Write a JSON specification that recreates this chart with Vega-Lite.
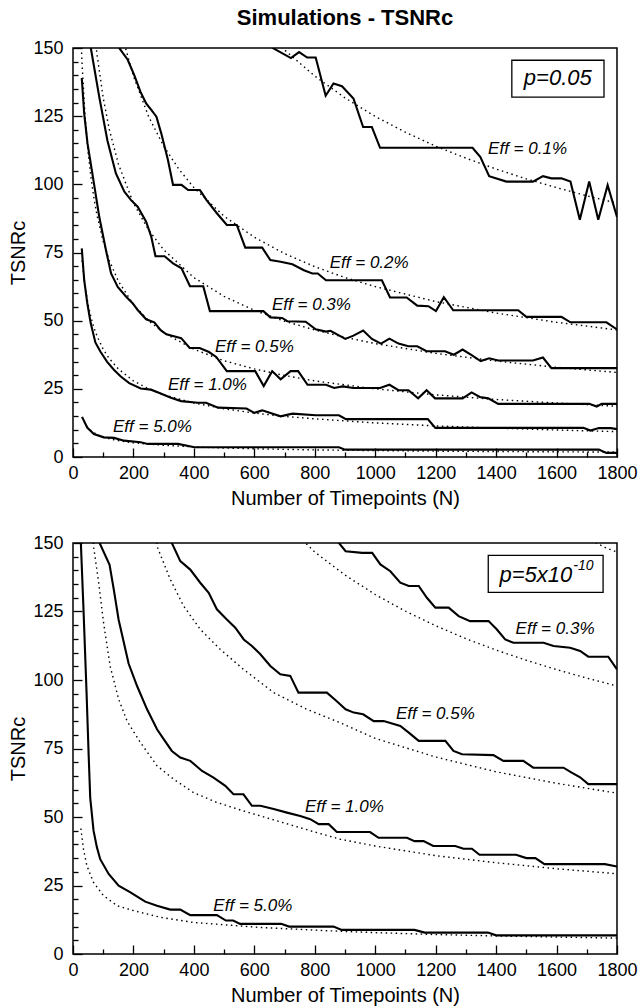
{
  "$schema": "https://vega.github.io/schema/vega-lite/v6.json",
  "background": "white",
  "padding": {"left": 8, "right": 0, "top": 6, "bottom": 0},
  "config": {
    "font": "Liberation Sans",
    "view": {"stroke": "black", "strokeWidth": 1.5},
    "axis": {"grid": false, "domain": false, "ticks": true, "tickColor": "black", "tickWidth": 1.3, "tickOpacity": 1, "labelColor": "black", "titleColor": "black", "labelFont": "Liberation Sans", "titleFont": "Liberation Sans", "labelFontSize": 18, "titleFontSize": 20, "titleFontWeight": "normal", "labelFlush": false, "labelOverlap": false, "labelBound": false, "zindex": 1},
    "concat": {"spacing": 24}
  },
  "datasets": {
    "top_sim": [
      {"eff":"0.1","N":640,"tsnr":153},{"eff":"0.1","N":661,"tsnr":150},{"eff":"0.1","N":721,"tsnr":146.3},{"eff":"0.1","N":748,"tsnr":148.5},{"eff":"0.1","N":775,"tsnr":146.5},{"eff":"0.1","N":803,"tsnr":146.5},{"eff":"0.1","N":836,"tsnr":132.5},{"eff":"0.1","N":862,"tsnr":137},{"eff":"0.1","N":890,"tsnr":136},{"eff":"0.1","N":928,"tsnr":131.5},{"eff":"0.1","N":960,"tsnr":121},{"eff":"0.1","N":989,"tsnr":121},{"eff":"0.1","N":1016,"tsnr":113.4},{"eff":"0.1","N":1322,"tsnr":113.4},{"eff":"0.1","N":1348,"tsnr":110},{"eff":"0.1","N":1377,"tsnr":103},{"eff":"0.1","N":1434,"tsnr":101},{"eff":"0.1","N":1522,"tsnr":101},{"eff":"0.1","N":1555,"tsnr":103},{"eff":"0.1","N":1583,"tsnr":102.2},{"eff":"0.1","N":1616,"tsnr":102.2},{"eff":"0.1","N":1646,"tsnr":101},{"eff":"0.1","N":1677,"tsnr":87},{"eff":"0.1","N":1708,"tsnr":101},{"eff":"0.1","N":1738,"tsnr":87},{"eff":"0.1","N":1769,"tsnr":99.7},{"eff":"0.1","N":1800,"tsnr":88},
      {"eff":"0.2","N":150,"tsnr":152},{"eff":"0.2","N":153,"tsnr":150},{"eff":"0.2","N":181,"tsnr":145.7},{"eff":"0.2","N":203,"tsnr":140},{"eff":"0.2","N":223,"tsnr":134},{"eff":"0.2","N":242,"tsnr":129.7},{"eff":"0.2","N":259,"tsnr":127.3},{"eff":"0.2","N":276,"tsnr":124.8},{"eff":"0.2","N":292,"tsnr":118.7},{"eff":"0.2","N":314,"tsnr":109},{"eff":"0.2","N":331,"tsnr":99.8},{"eff":"0.2","N":359,"tsnr":99.8},{"eff":"0.2","N":381,"tsnr":97.9},{"eff":"0.2","N":420,"tsnr":97.9},{"eff":"0.2","N":442,"tsnr":94.2},{"eff":"0.2","N":476,"tsnr":89.4},{"eff":"0.2","N":509,"tsnr":85.1},{"eff":"0.2","N":542,"tsnr":85.1},{"eff":"0.2","N":570,"tsnr":76.8},{"eff":"0.2","N":626,"tsnr":76.8},{"eff":"0.2","N":653,"tsnr":72.2},{"eff":"0.2","N":687,"tsnr":71.6},{"eff":"0.2","N":726,"tsnr":70.7},{"eff":"0.2","N":764,"tsnr":68.5},{"eff":"0.2","N":792,"tsnr":67.3},{"eff":"0.2","N":810,"tsnr":67.3},{"eff":"0.2","N":837,"tsnr":64.8},{"eff":"0.2","N":1022,"tsnr":64.8},{"eff":"0.2","N":1049,"tsnr":58.5},{"eff":"0.2","N":1104,"tsnr":58.5},{"eff":"0.2","N":1139,"tsnr":55.5},{"eff":"0.2","N":1176,"tsnr":55.3},{"eff":"0.2","N":1201,"tsnr":53.5},{"eff":"0.2","N":1227,"tsnr":58.6},{"eff":"0.2","N":1258,"tsnr":53.8},{"eff":"0.2","N":1473,"tsnr":53.8},{"eff":"0.2","N":1500,"tsnr":51.4},{"eff":"0.2","N":1616,"tsnr":51.4},{"eff":"0.2","N":1646,"tsnr":49.4},{"eff":"0.2","N":1765,"tsnr":49.4},{"eff":"0.2","N":1800,"tsnr":46.8},
      {"eff":"0.3","N":57,"tsnr":152},{"eff":"0.3","N":59,"tsnr":150},{"eff":"0.3","N":87,"tsnr":132},{"eff":"0.3","N":114,"tsnr":116},{"eff":"0.3","N":142,"tsnr":104},{"eff":"0.3","N":170,"tsnr":97.3},{"eff":"0.3","N":192,"tsnr":94.2},{"eff":"0.3","N":214,"tsnr":91.8},{"eff":"0.3","N":242,"tsnr":86.3},{"eff":"0.3","N":259,"tsnr":80.8},{"eff":"0.3","N":273,"tsnr":73.6},{"eff":"0.3","N":303,"tsnr":73.6},{"eff":"0.3","N":331,"tsnr":71},{"eff":"0.3","N":359,"tsnr":69.2},{"eff":"0.3","N":387,"tsnr":62.6},{"eff":"0.3","N":431,"tsnr":62.6},{"eff":"0.3","N":453,"tsnr":53.5},{"eff":"0.3","N":630,"tsnr":53.5},{"eff":"0.3","N":653,"tsnr":51.2},{"eff":"0.3","N":692,"tsnr":51},{"eff":"0.3","N":709,"tsnr":49.8},{"eff":"0.3","N":770,"tsnr":49.6},{"eff":"0.3","N":803,"tsnr":46.8},{"eff":"0.3","N":837,"tsnr":46},{"eff":"0.3","N":852,"tsnr":46.3},{"eff":"0.3","N":901,"tsnr":43.3},{"eff":"0.3","N":928,"tsnr":44.5},{"eff":"0.3","N":960,"tsnr":46.4},{"eff":"0.3","N":989,"tsnr":43.3},{"eff":"0.3","N":1019,"tsnr":41.6},{"eff":"0.3","N":1047,"tsnr":43.4},{"eff":"0.3","N":1077,"tsnr":41.6},{"eff":"0.3","N":1110,"tsnr":40.6},{"eff":"0.3","N":1139,"tsnr":40.6},{"eff":"0.3","N":1170,"tsnr":38.8},{"eff":"0.3","N":1231,"tsnr":38.8},{"eff":"0.3","N":1260,"tsnr":37.5},{"eff":"0.3","N":1289,"tsnr":39.4},{"eff":"0.3","N":1319,"tsnr":37.4},{"eff":"0.3","N":1349,"tsnr":35.2},{"eff":"0.3","N":1377,"tsnr":36.2},{"eff":"0.3","N":1407,"tsnr":35.4},{"eff":"0.3","N":1522,"tsnr":35.4},{"eff":"0.3","N":1555,"tsnr":36.5},{"eff":"0.3","N":1583,"tsnr":32.6},{"eff":"0.3","N":1800,"tsnr":32.6},
      {"eff":"0.5","N":29,"tsnr":139},{"eff":"0.5","N":37,"tsnr":126},{"eff":"0.5","N":48,"tsnr":115},{"eff":"0.5","N":64,"tsnr":104},{"eff":"0.5","N":87,"tsnr":88},{"eff":"0.5","N":109,"tsnr":75.9},{"eff":"0.5","N":126,"tsnr":67.3},{"eff":"0.5","N":148,"tsnr":62.4},{"eff":"0.5","N":176,"tsnr":58.8},{"eff":"0.5","N":198,"tsnr":56.3},{"eff":"0.5","N":214,"tsnr":53.9},{"eff":"0.5","N":242,"tsnr":50.5},{"eff":"0.5","N":269,"tsnr":49.4},{"eff":"0.5","N":290,"tsnr":46.5},{"eff":"0.5","N":309,"tsnr":45},{"eff":"0.5","N":358,"tsnr":43.6},{"eff":"0.5","N":386,"tsnr":40},{"eff":"0.5","N":419,"tsnr":40},{"eff":"0.5","N":450,"tsnr":38.5},{"eff":"0.5","N":474,"tsnr":36.7},{"eff":"0.5","N":509,"tsnr":31.5},{"eff":"0.5","N":603,"tsnr":31.5},{"eff":"0.5","N":631,"tsnr":26},{"eff":"0.5","N":659,"tsnr":31.5},{"eff":"0.5","N":687,"tsnr":28.5},{"eff":"0.5","N":720,"tsnr":31.5},{"eff":"0.5","N":745,"tsnr":31.5},{"eff":"0.5","N":776,"tsnr":26.5},{"eff":"0.5","N":837,"tsnr":26.5},{"eff":"0.5","N":864,"tsnr":25.3},{"eff":"0.5","N":892,"tsnr":25.9},{"eff":"0.5","N":928,"tsnr":25.3},{"eff":"0.5","N":1016,"tsnr":25.3},{"eff":"0.5","N":1047,"tsnr":26.5},{"eff":"0.5","N":1077,"tsnr":24.5},{"eff":"0.5","N":1110,"tsnr":24.5},{"eff":"0.5","N":1142,"tsnr":21.5},{"eff":"0.5","N":1170,"tsnr":24.5},{"eff":"0.5","N":1198,"tsnr":21.5},{"eff":"0.5","N":1289,"tsnr":21.5},{"eff":"0.5","N":1319,"tsnr":23.7},{"eff":"0.5","N":1346,"tsnr":22},{"eff":"0.5","N":1374,"tsnr":21.5},{"eff":"0.5","N":1407,"tsnr":19.5},{"eff":"0.5","N":1708,"tsnr":19.5},{"eff":"0.5","N":1733,"tsnr":18.5},{"eff":"0.5","N":1749,"tsnr":19.5},{"eff":"0.5","N":1800,"tsnr":19.5},
      {"eff":"1.0","N":29,"tsnr":76.5},{"eff":"1.0","N":37,"tsnr":65},{"eff":"1.0","N":47,"tsnr":56.6},{"eff":"1.0","N":58,"tsnr":49.4},{"eff":"1.0","N":74,"tsnr":42},{"eff":"1.0","N":91,"tsnr":38.6},{"eff":"1.0","N":113,"tsnr":34.9},{"eff":"1.0","N":136,"tsnr":31.9},{"eff":"1.0","N":158,"tsnr":29.5},{"eff":"1.0","N":186,"tsnr":27.1},{"eff":"1.0","N":224,"tsnr":25.1},{"eff":"1.0","N":258,"tsnr":24.7},{"eff":"1.0","N":286,"tsnr":23.5},{"eff":"1.0","N":324,"tsnr":21.7},{"eff":"1.0","N":358,"tsnr":20.5},{"eff":"1.0","N":413,"tsnr":19.9},{"eff":"1.0","N":440,"tsnr":19.9},{"eff":"1.0","N":480,"tsnr":18.1},{"eff":"1.0","N":574,"tsnr":17.8},{"eff":"1.0","N":600,"tsnr":16.2},{"eff":"1.0","N":626,"tsnr":17.1},{"eff":"1.0","N":687,"tsnr":14.9},{"eff":"1.0","N":726,"tsnr":15.9},{"eff":"1.0","N":803,"tsnr":15.3},{"eff":"1.0","N":880,"tsnr":15.3},{"eff":"1.0","N":903,"tsnr":13.9},{"eff":"1.0","N":1174,"tsnr":13.9},{"eff":"1.0","N":1199,"tsnr":10.7},{"eff":"1.0","N":1689,"tsnr":10.7},{"eff":"1.0","N":1712,"tsnr":9.7},{"eff":"1.0","N":1740,"tsnr":10.6},{"eff":"1.0","N":1780,"tsnr":10.6},{"eff":"1.0","N":1800,"tsnr":10.2},
      {"eff":"5.0","N":30,"tsnr":14.7},{"eff":"5.0","N":47,"tsnr":10.8},{"eff":"5.0","N":69,"tsnr":8.4},{"eff":"5.0","N":102,"tsnr":7.2},{"eff":"5.0","N":136,"tsnr":7},{"eff":"5.0","N":169,"tsnr":6},{"eff":"5.0","N":224,"tsnr":5.4},{"eff":"5.0","N":247,"tsnr":4.8},{"eff":"5.0","N":347,"tsnr":4.8},{"eff":"5.0","N":402,"tsnr":3.6},{"eff":"5.0","N":880,"tsnr":3.6},{"eff":"5.0","N":900,"tsnr":2.7},{"eff":"5.0","N":1740,"tsnr":2.7},{"eff":"5.0","N":1765,"tsnr":1.5},{"eff":"5.0","N":1800,"tsnr":1.5}
    ],
    "top_theory": [
      {"eff":"0.1","N":690,"tsnr":150.4},{"eff":"0.1","N":700,"tsnr":149.3},{"eff":"0.1","N":800,"tsnr":139.7},{"eff":"0.1","N":900,"tsnr":131.7},{"eff":"0.1","N":1000,"tsnr":124.9},{"eff":"0.1","N":1100,"tsnr":119.1},{"eff":"0.1","N":1200,"tsnr":114},{"eff":"0.1","N":1300,"tsnr":109.6},{"eff":"0.1","N":1400,"tsnr":105.6},{"eff":"0.1","N":1500,"tsnr":102},{"eff":"0.1","N":1600,"tsnr":98.8},{"eff":"0.1","N":1700,"tsnr":95.8},{"eff":"0.1","N":1800,"tsnr":93.1},
      {"eff":"0.2","N":170,"tsnr":151.5},{"eff":"0.2","N":200,"tsnr":139.7},{"eff":"0.2","N":250,"tsnr":124.9},{"eff":"0.2","N":300,"tsnr":114},{"eff":"0.2","N":350,"tsnr":105.6},{"eff":"0.2","N":400,"tsnr":98.8},{"eff":"0.2","N":500,"tsnr":88.3},{"eff":"0.2","N":600,"tsnr":80.6},{"eff":"0.2","N":700,"tsnr":74.6},{"eff":"0.2","N":800,"tsnr":69.8},{"eff":"0.2","N":900,"tsnr":65.8},{"eff":"0.2","N":1000,"tsnr":62.5},{"eff":"0.2","N":1200,"tsnr":57},{"eff":"0.2","N":1400,"tsnr":52.8},{"eff":"0.2","N":1600,"tsnr":49.4},{"eff":"0.2","N":1800,"tsnr":46.6},
      {"eff":"0.3","N":76,"tsnr":151},{"eff":"0.3","N":80,"tsnr":147.2},{"eff":"0.3","N":100,"tsnr":131.7},{"eff":"0.3","N":120,"tsnr":120.2},{"eff":"0.3","N":150,"tsnr":107.5},{"eff":"0.3","N":200,"tsnr":93.1},{"eff":"0.3","N":250,"tsnr":83.3},{"eff":"0.3","N":300,"tsnr":76},{"eff":"0.3","N":400,"tsnr":65.8},{"eff":"0.3","N":500,"tsnr":58.9},{"eff":"0.3","N":600,"tsnr":53.8},{"eff":"0.3","N":700,"tsnr":49.8},{"eff":"0.3","N":800,"tsnr":46.6},{"eff":"0.3","N":900,"tsnr":43.9},{"eff":"0.3","N":1000,"tsnr":41.6},{"eff":"0.3","N":1200,"tsnr":38},{"eff":"0.3","N":1400,"tsnr":35.2},{"eff":"0.3","N":1600,"tsnr":32.9},{"eff":"0.3","N":1800,"tsnr":31},
      {"eff":"0.5","N":27,"tsnr":152},{"eff":"0.5","N":30,"tsnr":144.2},{"eff":"0.5","N":40,"tsnr":124.9},{"eff":"0.5","N":50,"tsnr":111.7},{"eff":"0.5","N":60,"tsnr":102},{"eff":"0.5","N":70,"tsnr":94.4},{"eff":"0.5","N":80,"tsnr":88.3},{"eff":"0.5","N":100,"tsnr":79},{"eff":"0.5","N":120,"tsnr":72.1},{"eff":"0.5","N":150,"tsnr":64.5},{"eff":"0.5","N":200,"tsnr":55.9},{"eff":"0.5","N":250,"tsnr":50},{"eff":"0.5","N":300,"tsnr":45.6},{"eff":"0.5","N":400,"tsnr":39.5},{"eff":"0.5","N":500,"tsnr":35.3},{"eff":"0.5","N":600,"tsnr":32.3},{"eff":"0.5","N":700,"tsnr":29.9},{"eff":"0.5","N":800,"tsnr":27.9},{"eff":"0.5","N":1000,"tsnr":25},{"eff":"0.5","N":1200,"tsnr":22.8},{"eff":"0.5","N":1400,"tsnr":21.1},{"eff":"0.5","N":1600,"tsnr":19.8},{"eff":"0.5","N":1800,"tsnr":18.6},
      {"eff":"1.0","N":30,"tsnr":72.1},{"eff":"1.0","N":40,"tsnr":62.5},{"eff":"1.0","N":50,"tsnr":55.9},{"eff":"1.0","N":60,"tsnr":51},{"eff":"1.0","N":70,"tsnr":47.2},{"eff":"1.0","N":80,"tsnr":44.2},{"eff":"1.0","N":100,"tsnr":39.5},{"eff":"1.0","N":120,"tsnr":36.1},{"eff":"1.0","N":150,"tsnr":32.3},{"eff":"1.0","N":200,"tsnr":27.9},{"eff":"1.0","N":250,"tsnr":25},{"eff":"1.0","N":300,"tsnr":22.8},{"eff":"1.0","N":400,"tsnr":19.8},{"eff":"1.0","N":500,"tsnr":17.7},{"eff":"1.0","N":600,"tsnr":16.1},{"eff":"1.0","N":700,"tsnr":14.9},{"eff":"1.0","N":800,"tsnr":14},{"eff":"1.0","N":1000,"tsnr":12.5},{"eff":"1.0","N":1200,"tsnr":11.4},{"eff":"1.0","N":1400,"tsnr":10.6},{"eff":"1.0","N":1600,"tsnr":9.9},{"eff":"1.0","N":1800,"tsnr":9.3},
      {"eff":"5.0","N":30,"tsnr":14.5},{"eff":"5.0","N":40,"tsnr":12.2},{"eff":"5.0","N":50,"tsnr":10.6},{"eff":"5.0","N":60,"tsnr":9.6},{"eff":"5.0","N":80,"tsnr":8.2},{"eff":"5.0","N":100,"tsnr":7.2},{"eff":"5.0","N":150,"tsnr":6},{"eff":"5.0","N":200,"tsnr":5.2},{"eff":"5.0","N":300,"tsnr":4.3},{"eff":"5.0","N":400,"tsnr":3.7},{"eff":"5.0","N":500,"tsnr":3.3},{"eff":"5.0","N":600,"tsnr":3},{"eff":"5.0","N":800,"tsnr":2.6},{"eff":"5.0","N":1000,"tsnr":2.35},{"eff":"5.0","N":1200,"tsnr":2.15},{"eff":"5.0","N":1400,"tsnr":2},{"eff":"5.0","N":1600,"tsnr":1.9},{"eff":"5.0","N":1800,"tsnr":1.8}
    ],
    "top_labels": [
      {"label":"Eff = 0.1%","N":1504,"tsnr":113},
      {"label":"Eff = 0.2%","N":980,"tsnr":71},
      {"label":"Eff = 0.3%","N":789,"tsnr":55.7},
      {"label":"Eff = 0.5%","N":600,"tsnr":40.4},
      {"label":"Eff = 1.0%","N":445,"tsnr":26.3},
      {"label":"Eff = 5.0%","N":263,"tsnr":11}
    ],
    "top_box": [
      {"label":"p=0.05","N1":1452,"N2":1757,"v1":132,"v2":145.5,"Nc":1604,"vc":139}
    ],
    "bot_sim": [
      {"eff":"5.0","N":25,"tsnr":152},{"eff":"5.0","N":26,"tsnr":150},{"eff":"5.0","N":35,"tsnr":125},{"eff":"5.0","N":45,"tsnr":95},{"eff":"5.0","N":52,"tsnr":72},{"eff":"5.0","N":57,"tsnr":57},{"eff":"5.0","N":68,"tsnr":45},{"eff":"5.0","N":79,"tsnr":39},{"eff":"5.0","N":90,"tsnr":34.6},{"eff":"5.0","N":118,"tsnr":29.2},{"eff":"5.0","N":151,"tsnr":24.9},{"eff":"5.0","N":190,"tsnr":22.5},{"eff":"5.0","N":239,"tsnr":19.1},{"eff":"5.0","N":278,"tsnr":17.6},{"eff":"5.0","N":322,"tsnr":16.2},{"eff":"5.0","N":355,"tsnr":16.2},{"eff":"5.0","N":388,"tsnr":14.2},{"eff":"5.0","N":476,"tsnr":14.2},{"eff":"5.0","N":506,"tsnr":12.2},{"eff":"5.0","N":530,"tsnr":12.2},{"eff":"5.0","N":553,"tsnr":11},{"eff":"5.0","N":689,"tsnr":11},{"eff":"5.0","N":715,"tsnr":10},{"eff":"5.0","N":862,"tsnr":10},{"eff":"5.0","N":889,"tsnr":8.8},{"eff":"5.0","N":1130,"tsnr":8.8},{"eff":"5.0","N":1164,"tsnr":7.8},{"eff":"5.0","N":1373,"tsnr":7.8},{"eff":"5.0","N":1400,"tsnr":6.8},{"eff":"5.0","N":1800,"tsnr":6.8},
      {"eff":"1.0","N":86,"tsnr":152},{"eff":"1.0","N":88,"tsnr":150},{"eff":"1.0","N":121,"tsnr":142},{"eff":"1.0","N":135,"tsnr":133},{"eff":"1.0","N":151,"tsnr":122},{"eff":"1.0","N":184,"tsnr":106},{"eff":"1.0","N":212,"tsnr":97.8},{"eff":"1.0","N":245,"tsnr":89.3},{"eff":"1.0","N":278,"tsnr":82},{"eff":"1.0","N":300,"tsnr":78.4},{"eff":"1.0","N":327,"tsnr":74.1},{"eff":"1.0","N":355,"tsnr":71.7},{"eff":"1.0","N":388,"tsnr":70.5},{"eff":"1.0","N":427,"tsnr":66.8},{"eff":"1.0","N":465,"tsnr":64.4},{"eff":"1.0","N":504,"tsnr":61.4},{"eff":"1.0","N":531,"tsnr":58.3},{"eff":"1.0","N":564,"tsnr":58.3},{"eff":"1.0","N":592,"tsnr":54.1},{"eff":"1.0","N":620,"tsnr":54.1},{"eff":"1.0","N":664,"tsnr":52.9},{"eff":"1.0","N":708,"tsnr":51.6},{"eff":"1.0","N":752,"tsnr":50.4},{"eff":"1.0","N":785,"tsnr":49.2},{"eff":"1.0","N":813,"tsnr":47.4},{"eff":"1.0","N":846,"tsnr":47.4},{"eff":"1.0","N":873,"tsnr":44.5},{"eff":"1.0","N":983,"tsnr":44.5},{"eff":"1.0","N":1011,"tsnr":42.4},{"eff":"1.0","N":1105,"tsnr":42.4},{"eff":"1.0","N":1130,"tsnr":41.2},{"eff":"1.0","N":1160,"tsnr":41.2},{"eff":"1.0","N":1192,"tsnr":39.4},{"eff":"1.0","N":1265,"tsnr":39.4},{"eff":"1.0","N":1292,"tsnr":38.4},{"eff":"1.0","N":1320,"tsnr":38.4},{"eff":"1.0","N":1345,"tsnr":36.2},{"eff":"1.0","N":1466,"tsnr":36.2},{"eff":"1.0","N":1500,"tsnr":35},{"eff":"1.0","N":1530,"tsnr":35},{"eff":"1.0","N":1560,"tsnr":32.8},{"eff":"1.0","N":1760,"tsnr":32.8},{"eff":"1.0","N":1800,"tsnr":31.9},
      {"eff":"0.5","N":325,"tsnr":152},{"eff":"0.5","N":327,"tsnr":150},{"eff":"0.5","N":355,"tsnr":143.4},{"eff":"0.5","N":388,"tsnr":140.3},{"eff":"0.5","N":421,"tsnr":135.5},{"eff":"0.5","N":449,"tsnr":131.8},{"eff":"0.5","N":476,"tsnr":125.8},{"eff":"0.5","N":509,"tsnr":122.1},{"eff":"0.5","N":537,"tsnr":119.1},{"eff":"0.5","N":565,"tsnr":114.8},{"eff":"0.5","N":592,"tsnr":112.4},{"eff":"0.5","N":620,"tsnr":109.4},{"eff":"0.5","N":653,"tsnr":105.1},{"eff":"0.5","N":686,"tsnr":102.1},{"eff":"0.5","N":719,"tsnr":101.5},{"eff":"0.5","N":746,"tsnr":95.4},{"eff":"0.5","N":840,"tsnr":95.4},{"eff":"0.5","N":870,"tsnr":92.5},{"eff":"0.5","N":902,"tsnr":89.3},{"eff":"0.5","N":929,"tsnr":88.1},{"eff":"0.5","N":960,"tsnr":87.5},{"eff":"0.5","N":995,"tsnr":85},{"eff":"0.5","N":1028,"tsnr":85},{"eff":"0.5","N":1083,"tsnr":83.2},{"eff":"0.5","N":1111,"tsnr":80.8},{"eff":"0.5","N":1144,"tsnr":77.8},{"eff":"0.5","N":1232,"tsnr":77.8},{"eff":"0.5","N":1259,"tsnr":74.1},{"eff":"0.5","N":1287,"tsnr":72.9},{"eff":"0.5","N":1391,"tsnr":72.6},{"eff":"0.5","N":1424,"tsnr":70.5},{"eff":"0.5","N":1490,"tsnr":70.5},{"eff":"0.5","N":1523,"tsnr":68},{"eff":"0.5","N":1623,"tsnr":68},{"eff":"0.5","N":1650,"tsnr":66.2},{"eff":"0.5","N":1678,"tsnr":64.5},{"eff":"0.5","N":1705,"tsnr":62},{"eff":"0.5","N":1800,"tsnr":62},
      {"eff":"0.3","N":875,"tsnr":152},{"eff":"0.3","N":880,"tsnr":150},{"eff":"0.3","N":902,"tsnr":147},{"eff":"0.3","N":957,"tsnr":146.4},{"eff":"0.3","N":990,"tsnr":146.4},{"eff":"0.3","N":1017,"tsnr":142.2},{"eff":"0.3","N":1050,"tsnr":139.7},{"eff":"0.3","N":1083,"tsnr":135.5},{"eff":"0.3","N":1111,"tsnr":134.3},{"eff":"0.3","N":1144,"tsnr":134.3},{"eff":"0.3","N":1171,"tsnr":130},{"eff":"0.3","N":1199,"tsnr":126.4},{"eff":"0.3","N":1243,"tsnr":126.4},{"eff":"0.3","N":1276,"tsnr":123.3},{"eff":"0.3","N":1314,"tsnr":121.5},{"eff":"0.3","N":1375,"tsnr":121.5},{"eff":"0.3","N":1402,"tsnr":118.5},{"eff":"0.3","N":1430,"tsnr":114.8},{"eff":"0.3","N":1457,"tsnr":113.6},{"eff":"0.3","N":1557,"tsnr":113.6},{"eff":"0.3","N":1590,"tsnr":112.4},{"eff":"0.3","N":1645,"tsnr":111.8},{"eff":"0.3","N":1678,"tsnr":110.6},{"eff":"0.3","N":1705,"tsnr":108.5},{"eff":"0.3","N":1771,"tsnr":108.5},{"eff":"0.3","N":1800,"tsnr":103.9}
    ],
    "bot_theory": [
      {"eff":"5.0","N":26,"tsnr":45.8},{"eff":"5.0","N":35,"tsnr":38},{"eff":"5.0","N":46,"tsnr":32.2},{"eff":"5.0","N":68,"tsnr":26.1},{"eff":"5.0","N":101,"tsnr":21.3},{"eff":"5.0","N":146,"tsnr":17.6},{"eff":"5.0","N":201,"tsnr":15.8},{"eff":"5.0","N":289,"tsnr":13.4},{"eff":"5.0","N":399,"tsnr":11.5},{"eff":"5.0","N":509,"tsnr":10.6},{"eff":"5.0","N":620,"tsnr":9.7},{"eff":"5.0","N":840,"tsnr":8.5},{"eff":"5.0","N":1000,"tsnr":7.8},{"eff":"5.0","N":1200,"tsnr":7.1},{"eff":"5.0","N":1400,"tsnr":6.6},{"eff":"5.0","N":1600,"tsnr":6.2},{"eff":"5.0","N":1800,"tsnr":5.8},
      {"eff":"1.0","N":66,"tsnr":152},{"eff":"1.0","N":68,"tsnr":148.8},{"eff":"1.0","N":85,"tsnr":135.5},{"eff":"1.0","N":101,"tsnr":121},{"eff":"1.0","N":123,"tsnr":105},{"eff":"1.0","N":151,"tsnr":93},{"eff":"1.0","N":179,"tsnr":85},{"eff":"1.0","N":223,"tsnr":77.2},{"eff":"1.0","N":278,"tsnr":68.7},{"eff":"1.0","N":333,"tsnr":63.8},{"eff":"1.0","N":399,"tsnr":58.9},{"eff":"1.0","N":476,"tsnr":55.3},{"eff":"1.0","N":564,"tsnr":52.2},{"eff":"1.0","N":675,"tsnr":48.6},{"eff":"1.0","N":785,"tsnr":45},{"eff":"1.0","N":884,"tsnr":41.9},{"eff":"1.0","N":1000,"tsnr":39.4},{"eff":"1.0","N":1200,"tsnr":35.9},{"eff":"1.0","N":1400,"tsnr":33.3},{"eff":"1.0","N":1600,"tsnr":31.1},{"eff":"1.0","N":1800,"tsnr":29.3},
      {"eff":"0.5","N":276,"tsnr":152},{"eff":"0.5","N":278,"tsnr":148.8},{"eff":"0.5","N":322,"tsnr":136.7},{"eff":"0.5","N":366,"tsnr":127},{"eff":"0.5","N":421,"tsnr":118.5},{"eff":"0.5","N":487,"tsnr":111.2},{"eff":"0.5","N":564,"tsnr":103.9},{"eff":"0.5","N":664,"tsnr":95.4},{"eff":"0.5","N":774,"tsnr":89.3},{"eff":"0.5","N":884,"tsnr":84.4},{"eff":"0.5","N":1000,"tsnr":78.7},{"eff":"0.5","N":1200,"tsnr":71.9},{"eff":"0.5","N":1400,"tsnr":66.5},{"eff":"0.5","N":1600,"tsnr":62.3},{"eff":"0.5","N":1800,"tsnr":58.7},
      {"eff":"0.3","N":760,"tsnr":151},{"eff":"0.3","N":800,"tsnr":146.7},{"eff":"0.3","N":900,"tsnr":138.3},{"eff":"0.3","N":1000,"tsnr":131.2},{"eff":"0.3","N":1100,"tsnr":125.1},{"eff":"0.3","N":1200,"tsnr":119.8},{"eff":"0.3","N":1300,"tsnr":115.1},{"eff":"0.3","N":1400,"tsnr":110.9},{"eff":"0.3","N":1500,"tsnr":107.2},{"eff":"0.3","N":1600,"tsnr":103.8},{"eff":"0.3","N":1700,"tsnr":100.7},{"eff":"0.3","N":1800,"tsnr":97.8},
      {"eff":"0.2","N":1715,"tsnr":151},{"eff":"0.2","N":1760,"tsnr":148.4},{"eff":"0.2","N":1800,"tsnr":146.7}
    ],
    "bot_labels": [
      {"label":"Eff = 0.3%","N":1595,"tsnr":118.5},
      {"label":"Eff = 0.5%","N":1199,"tsnr":87.5},
      {"label":"Eff = 1.0%","N":898,"tsnr":53.5},
      {"label":"Eff = 5.0%","N":595,"tsnr":17.6}
    ],
    "bot_box": [
      {"label":"p=5x10","sup":"-10","N1":1374,"N2":1754,"v1":132,"v2":145.5,"Nc":1652,"vc":138.5}
    ]
  },
  "vconcat": [
    {
      "width": 544,
      "height": 409,
      "title": {"text": "Simulations - TSNRᴄ", "fontSize": 22, "fontWeight": "bold", "font": "Liberation Sans", "anchor": "middle", "frame": "group", "offset": 9, "color": "black"},
      "resolve": {"axis": {"x": "independent", "y": "independent"}},
      "layer": [
        {
          "data": {"name": "top_theory"},
          "mark": {"type": "line", "clip": true, "strokeDash": [1.5, 3.5], "strokeWidth": 1.4, "color": "black"},
          "encoding": {
            "x": {"field": "N", "type": "quantitative", "scale": {"domain": [0, 1800], "nice": false, "zero": false},
                  "axis": {"orient": "bottom", "title": "Number of Timepoints (N)", "format": "d", "values": [0,200,400,600,800,1000,1200,1400,1600,1800],
                           "offset": -9, "tickSize": 9, "labelPadding": 7, "titlePadding": 6}},
            "y": {"field": "tsnr", "type": "quantitative", "scale": {"domain": [0, 150], "nice": false},
                  "axis": {"orient": "left", "title": "TSNRᴄ", "values": [0,25,50,75,100,125,150],
                           "offset": -9, "tickSize": 9, "labelPadding": 10, "titlePadding": 4}},
            "detail": {"field": "eff", "type": "nominal"}
          }
        },
        {
          "data": {"name": "top_sim"},
          "mark": {"type": "line", "clip": true, "strokeWidth": 2.1, "color": "black", "strokeJoin": "miter"},
          "encoding": {
            "x": {"field": "N", "type": "quantitative",
                  "axis": {"orient": "bottom", "title": null, "labels": false, "values": [100,300,500,700,900,1100,1300,1500,1700], "offset": -5, "tickSize": 5}},
            "y": {"field": "tsnr", "type": "quantitative",
                  "axis": {"orient": "left", "title": null, "labels": false, "values": [5,10,15,20,30,35,40,45,55,60,65,70,80,85,90,95,105,110,115,120,130,135,140,145], "offset": -5, "tickSize": 5}},
            "detail": {"field": "eff", "type": "nominal"}
          }
        },
        {
          "data": {"name": "top_labels"},
          "mark": {"type": "text", "fontStyle": "italic", "fontSize": 17, "align": "center", "baseline": "middle", "color": "black"},
          "encoding": {
            "x": {"field": "N", "type": "quantitative", "axis": null},
            "y": {"field": "tsnr", "type": "quantitative", "axis": null},
            "text": {"field": "label"}
          }
        },
        {
          "data": {"name": "top_box"},
          "mark": {"type": "rect", "fill": "white", "stroke": "black", "strokeWidth": 1.3},
          "encoding": {
            "x": {"field": "N1", "type": "quantitative", "axis": null},
            "x2": {"field": "N2"},
            "y": {"field": "v1", "type": "quantitative", "axis": null},
            "y2": {"field": "v2"}
          }
        },
        {
          "data": {"name": "top_box"},
          "mark": {"type": "text", "fontStyle": "italic", "fontSize": 22, "align": "center", "baseline": "middle", "color": "black"},
          "encoding": {
            "x": {"field": "Nc", "type": "quantitative", "axis": null},
            "y": {"field": "vc", "type": "quantitative", "axis": null},
            "text": {"field": "label"}
          }
        }
      ]
    },
    {
      "width": 544,
      "height": 411,
      "resolve": {"axis": {"x": "independent", "y": "independent"}},
      "layer": [
        {
          "data": {"name": "bot_theory"},
          "mark": {"type": "line", "clip": true, "strokeDash": [1.5, 3.5], "strokeWidth": 1.4, "color": "black"},
          "encoding": {
            "x": {"field": "N", "type": "quantitative", "scale": {"domain": [0, 1800], "nice": false, "zero": false},
                  "axis": {"orient": "bottom", "title": "Number of Timepoints (N)", "format": "d", "values": [0,200,400,600,800,1000,1200,1400,1600,1800],
                           "offset": -9, "tickSize": 9, "labelPadding": 7, "titlePadding": 6}},
            "y": {"field": "tsnr", "type": "quantitative", "scale": {"domain": [0, 150], "nice": false},
                  "axis": {"orient": "left", "title": "TSNRᴄ", "values": [0,25,50,75,100,125,150],
                           "offset": -9, "tickSize": 9, "labelPadding": 10, "titlePadding": 4}},
            "detail": {"field": "eff", "type": "nominal"}
          }
        },
        {
          "data": {"name": "bot_sim"},
          "mark": {"type": "line", "clip": true, "strokeWidth": 2.1, "color": "black", "strokeJoin": "miter"},
          "encoding": {
            "x": {"field": "N", "type": "quantitative",
                  "axis": {"orient": "bottom", "title": null, "labels": false, "values": [100,300,500,700,900,1100,1300,1500,1700], "offset": -5, "tickSize": 5}},
            "y": {"field": "tsnr", "type": "quantitative",
                  "axis": {"orient": "left", "title": null, "labels": false, "values": [5,10,15,20,30,35,40,45,55,60,65,70,80,85,90,95,105,110,115,120,130,135,140,145], "offset": -5, "tickSize": 5}},
            "detail": {"field": "eff", "type": "nominal"}
          }
        },
        {
          "data": {"name": "bot_labels"},
          "mark": {"type": "text", "fontStyle": "italic", "fontSize": 17, "align": "center", "baseline": "middle", "color": "black"},
          "encoding": {
            "x": {"field": "N", "type": "quantitative", "axis": null},
            "y": {"field": "tsnr", "type": "quantitative", "axis": null},
            "text": {"field": "label"}
          }
        },
        {
          "data": {"name": "bot_box"},
          "mark": {"type": "rect", "fill": "white", "stroke": "black", "strokeWidth": 1.3},
          "encoding": {
            "x": {"field": "N1", "type": "quantitative", "axis": null},
            "x2": {"field": "N2"},
            "y": {"field": "v1", "type": "quantitative", "axis": null},
            "y2": {"field": "v2"}
          }
        },
        {
          "data": {"name": "bot_box"},
          "mark": {"type": "text", "fontStyle": "italic", "fontSize": 22, "align": "right", "baseline": "middle", "color": "black"},
          "encoding": {
            "x": {"field": "Nc", "type": "quantitative", "axis": null},
            "y": {"field": "vc", "type": "quantitative", "axis": null},
            "text": {"field": "label"}
          }
        },
        {
          "data": {"name": "bot_box"},
          "mark": {"type": "text", "fontStyle": "italic", "fontSize": 14, "align": "left", "baseline": "middle", "dx": 1, "dy": -9, "color": "black"},
          "encoding": {
            "x": {"field": "Nc", "type": "quantitative", "axis": null},
            "y": {"field": "vc", "type": "quantitative", "axis": null},
            "text": {"field": "sup"}
          }
        }
      ]
    }
  ]
}
